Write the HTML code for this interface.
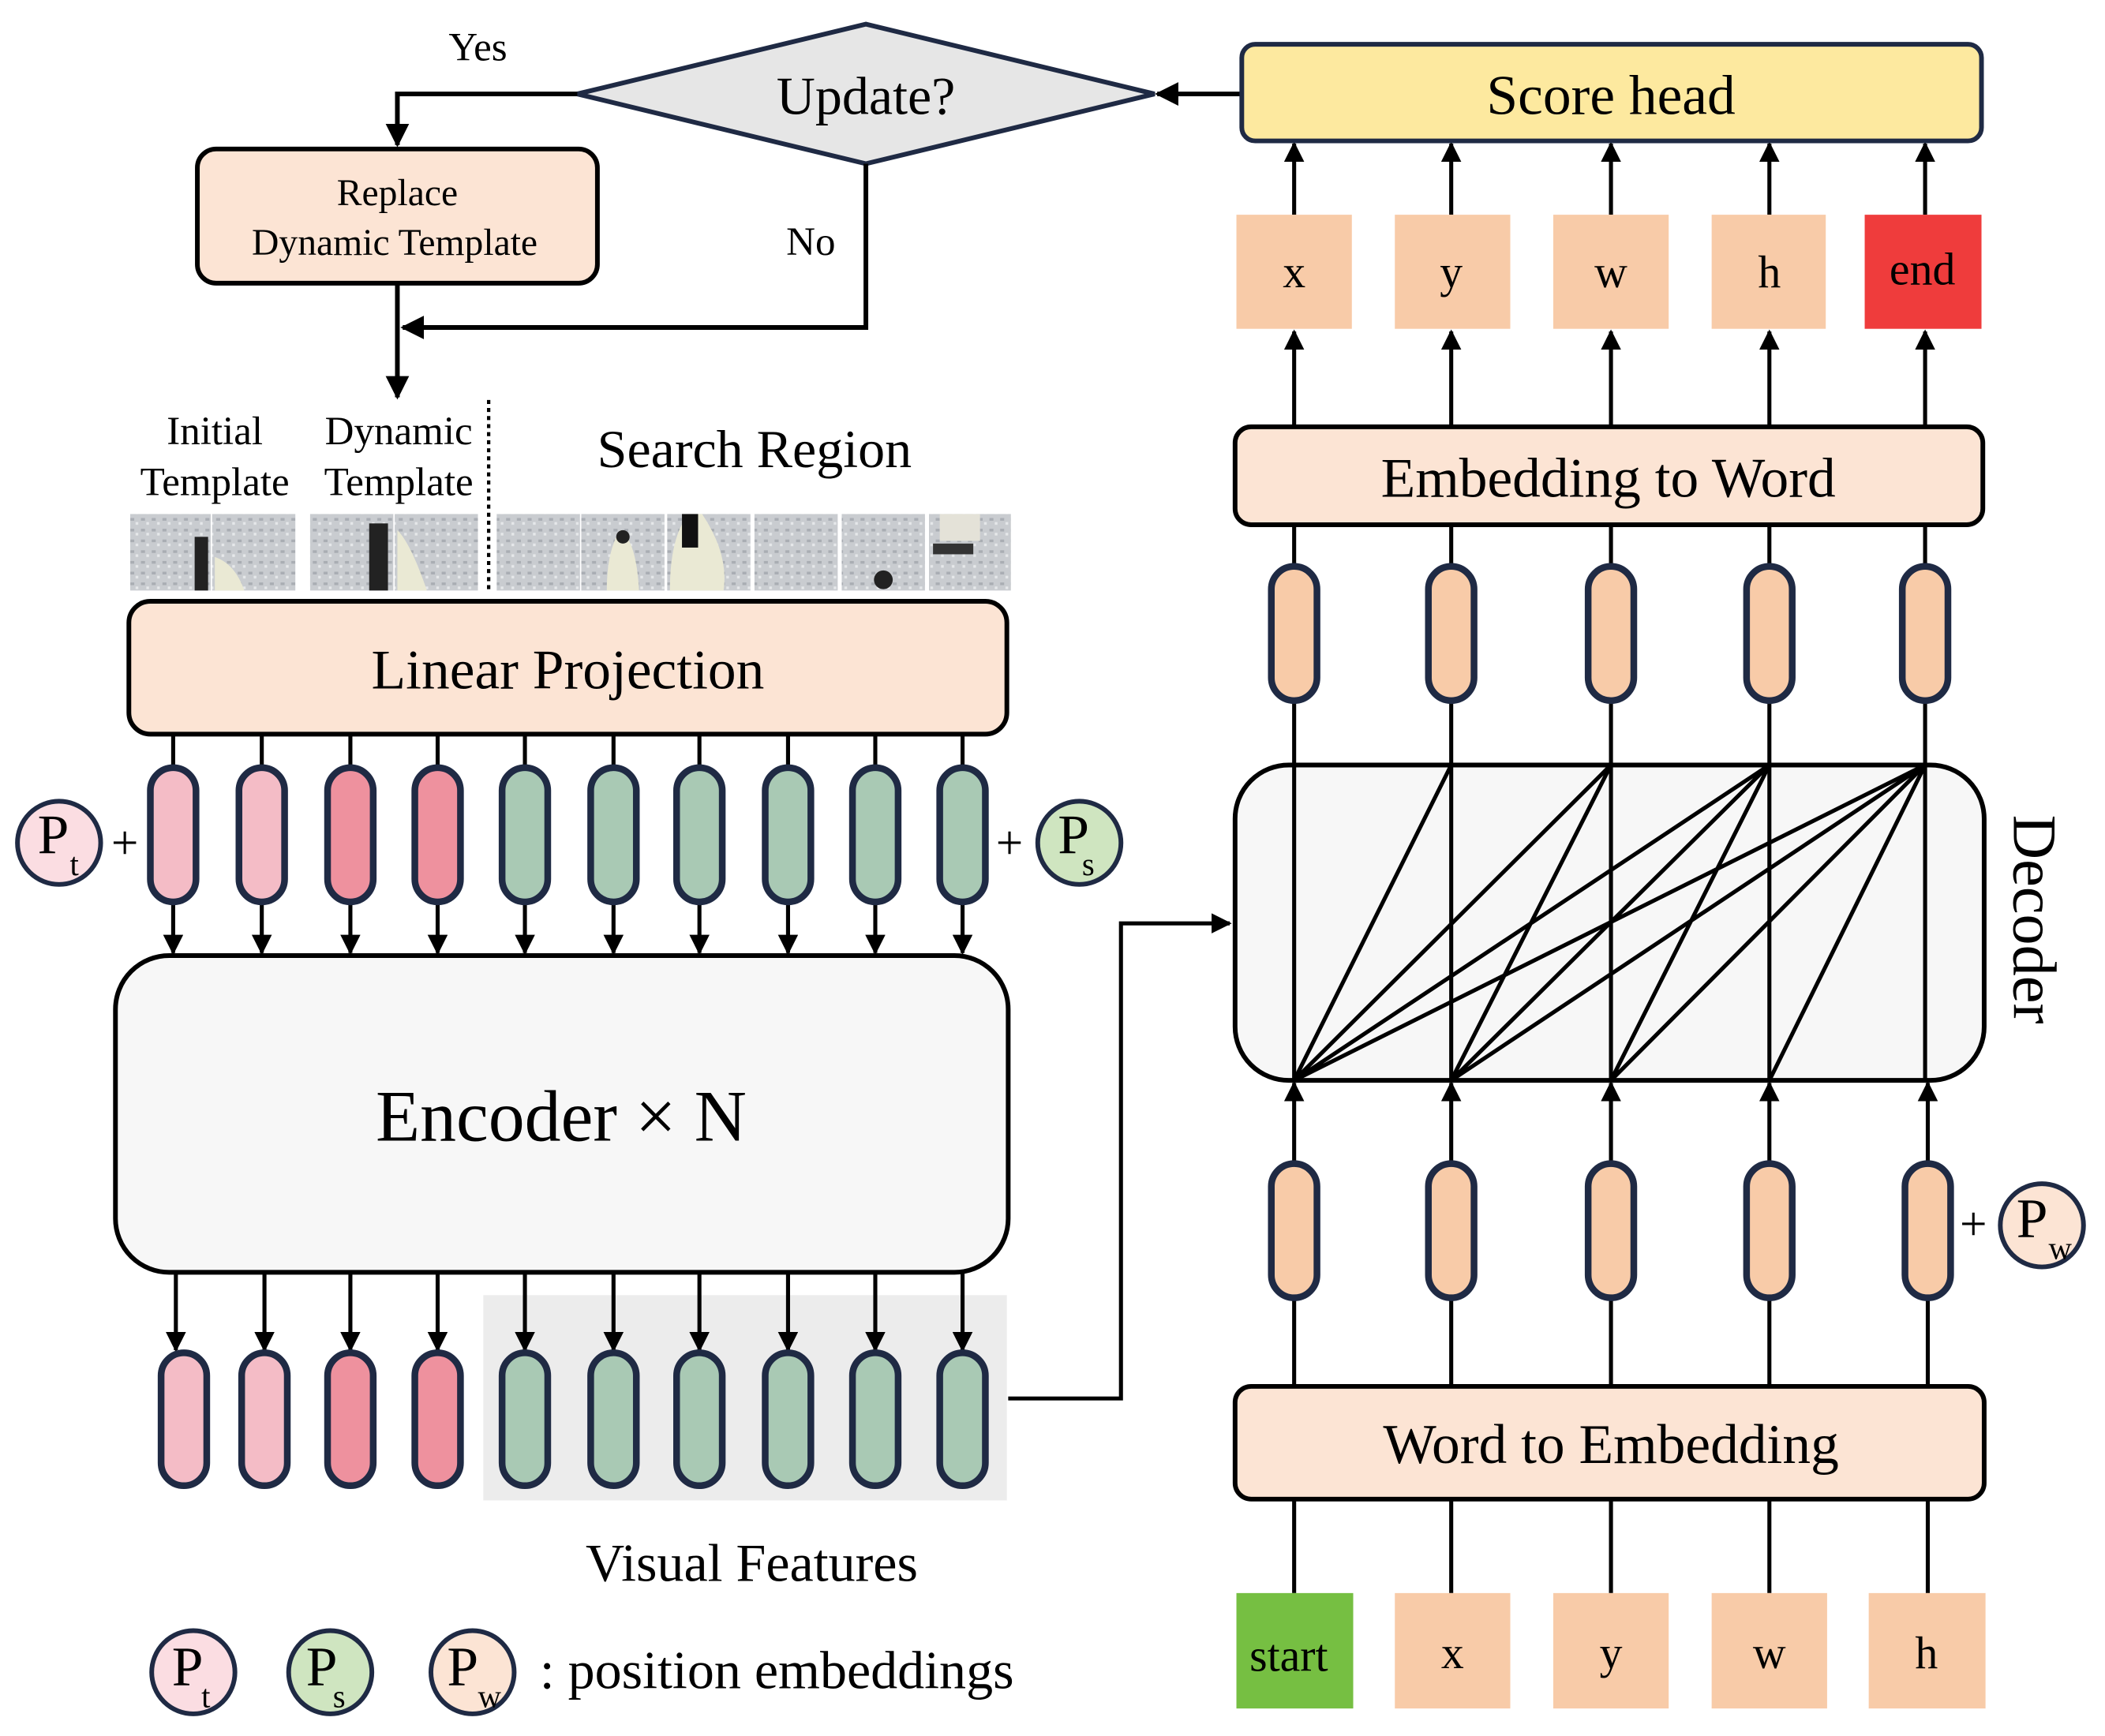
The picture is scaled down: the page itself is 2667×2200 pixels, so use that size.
<!DOCTYPE html>
<html><head><meta charset="utf-8"><style>html,body{margin:0;padding:0;background:#fff}svg{display:block}</style></head>
<body>
<svg width="2667" height="2200" viewBox="0 0 1568 1293.5" preserveAspectRatio="none" xmlns="http://www.w3.org/2000/svg" font-family="'Liberation Serif', serif">
<defs>
<marker id="a" viewBox="0 0 10 10" refX="9" refY="5" markerWidth="5" markerHeight="5" orient="auto"><path d="M0,0 L10,5 L0,10 z" fill="#000"/></marker>
<pattern id="snow" width="8" height="8" patternUnits="userSpaceOnUse"><rect width="8" height="8" fill="#c9ccd0"/><rect x="1" y="2" width="3" height="2" fill="#a9adb3"/><rect x="5" y="5" width="2" height="2" fill="#e6e8ea"/></pattern>
</defs>
<g stroke="#000" stroke-width="3.5" fill="none">
<!-- diamond -->
<polygon points="430,70 645,18 860,70 645,122" fill="#e6e6e6" stroke="#1f2a44"/>
<line x1="925" y1="70" x2="862" y2="70" marker-end="url(#a)"/>
<polyline points="430,70 296,70 296,108" marker-end="url(#a)"/>
<polyline points="645,122 645,244 300,244" marker-end="url(#a)"/>
<line x1="296" y1="211" x2="296" y2="296" marker-end="url(#a)"/>
<rect x="147" y="111" width="298" height="100" rx="14" fill="#fce4d4"/>
<line x1="364" y1="298" x2="364" y2="440" stroke-dasharray="3,3" stroke-width="2.5"/>
</g>
<text x="645" y="85" font-size="40" text-anchor="middle">Update?</text>
<text x="356" y="45" font-size="30" text-anchor="middle">Yes</text>
<text x="604" y="190" font-size="30" text-anchor="middle">No</text>
<text x="296" y="153" font-size="28" text-anchor="middle">Replace</text>
<text x="294" y="190" font-size="28" text-anchor="middle">Dynamic Template</text>
<text x="160" y="331" font-size="30" text-anchor="middle">Initial</text>
<text x="160" y="369" font-size="30" text-anchor="middle">Template</text>
<text x="297" y="331" font-size="30" text-anchor="middle">Dynamic</text>
<text x="297" y="369" font-size="30" text-anchor="middle">Template</text>
<text x="562" y="348" font-size="40" text-anchor="middle">Search Region</text>
<!-- images -->
<g>
<rect x="97" y="383" width="60" height="57" fill="url(#snow)"/><rect x="158" y="383" width="62" height="57" fill="url(#snow)"/>
<rect x="231" y="383" width="62" height="57" fill="url(#snow)"/><rect x="294" y="383" width="62" height="57" fill="url(#snow)"/>
<rect x="370" y="383" width="62" height="57" fill="url(#snow)"/><rect x="433" y="383" width="62" height="57" fill="url(#snow)"/>
<rect x="497" y="383" width="62" height="57" fill="url(#snow)"/><rect x="562" y="383" width="62" height="57" fill="url(#snow)"/>
<rect x="627" y="383" width="62" height="57" fill="url(#snow)"/><rect x="692" y="383" width="61" height="57" fill="url(#snow)"/>
<rect x="145" y="400" width="10" height="40" fill="#222"/><path d="M160,415 q15,5 22,25 h-22z" fill="#eae9d4"/>
<rect x="275" y="390" width="14" height="50" fill="#222"/><path d="M296,395 q10,10 22,45 h-22z" fill="#eae9d4"/>
<path d="M452,440 q0,-30 10,-45 q12,8 14,45z" fill="#eae9d4"/><circle cx="464" cy="400" r="5" fill="#222"/>
<path d="M499,440 q0,-40 14,-57 h10 q20,30 16,57z" fill="#eae9d4"/><rect x="508" y="383" width="12" height="25" fill="#111"/>
<circle cx="658" cy="432" r="7" fill="#222"/><rect x="695" y="405" width="30" height="8" fill="#333"/><rect x="700" y="383" width="30" height="20" fill="#e4e2d8"/>
</g>
<g stroke="#000" stroke-width="3.5">
<rect x="96" y="448" width="654" height="99" rx="16" fill="#fce4d4"/>
<rect x="86" y="712" width="665" height="236" rx="40" fill="#f7f7f7"/>
</g>
<text x="423" y="513" font-size="42" text-anchor="middle">Linear Projection</text>
<text x="418" y="850" font-size="54" text-anchor="middle">Encoder × N</text>
<rect x="360" y="965" width="390" height="153" fill="#ececec"/>
<g stroke="#000" stroke-width="3" fill="none">
<line x1="129" y1="547" x2="129" y2="572"/><line x1="195" y1="547" x2="195" y2="572"/><line x1="261" y1="547" x2="261" y2="572"/><line x1="326" y1="547" x2="326" y2="572"/><line x1="391" y1="547" x2="391" y2="572"/><line x1="457" y1="547" x2="457" y2="572"/><line x1="521" y1="547" x2="521" y2="572"/><line x1="587" y1="547" x2="587" y2="572"/><line x1="652" y1="547" x2="652" y2="572"/><line x1="717" y1="547" x2="717" y2="572"/>
<g marker-end="url(#a)">
<line x1="129" y1="672" x2="129" y2="710"/><line x1="195" y1="672" x2="195" y2="710"/><line x1="261" y1="672" x2="261" y2="710"/><line x1="326" y1="672" x2="326" y2="710"/><line x1="391" y1="672" x2="391" y2="710"/><line x1="457" y1="672" x2="457" y2="710"/><line x1="521" y1="672" x2="521" y2="710"/><line x1="587" y1="672" x2="587" y2="710"/><line x1="652" y1="672" x2="652" y2="710"/><line x1="717" y1="672" x2="717" y2="710"/>
<line x1="131" y1="948" x2="131" y2="1006"/><line x1="197" y1="948" x2="197" y2="1006"/><line x1="261" y1="948" x2="261" y2="1006"/><line x1="326" y1="948" x2="326" y2="1006"/><line x1="391" y1="948" x2="391" y2="1006"/><line x1="457" y1="948" x2="457" y2="1006"/><line x1="521" y1="948" x2="521" y2="1006"/><line x1="587" y1="948" x2="587" y2="1006"/><line x1="652" y1="948" x2="652" y2="1006"/><line x1="717" y1="948" x2="717" y2="1006"/>
<polyline points="751,1042 835,1042 835,688 916,688"/>
</g>
</g>
<g stroke="#1f2a44" stroke-width="5">
<rect x="112" y="572" width="34" height="100" rx="17" fill="#f4bcc6"/><rect x="178" y="572" width="34" height="100" rx="17" fill="#f4bcc6"/>
<rect x="244" y="572" width="34" height="100" rx="17" fill="#ee919e"/><rect x="309" y="572" width="34" height="100" rx="17" fill="#ee919e"/>
<rect x="374" y="572" width="34" height="100" rx="17" fill="#a9c9b4"/><rect x="440" y="572" width="34" height="100" rx="17" fill="#a9c9b4"/><rect x="504" y="572" width="34" height="100" rx="17" fill="#a9c9b4"/><rect x="570" y="572" width="34" height="100" rx="17" fill="#a9c9b4"/><rect x="635" y="572" width="34" height="100" rx="17" fill="#a9c9b4"/><rect x="700" y="572" width="34" height="100" rx="17" fill="#a9c9b4"/>
<rect x="120" y="1008" width="34" height="99" rx="17" fill="#f4bcc6"/><rect x="180" y="1008" width="34" height="99" rx="17" fill="#f4bcc6"/>
<rect x="244" y="1008" width="34" height="99" rx="17" fill="#ee919e"/><rect x="309" y="1008" width="34" height="99" rx="17" fill="#ee919e"/>
<rect x="374" y="1008" width="34" height="99" rx="17" fill="#a9c9b4"/><rect x="440" y="1008" width="34" height="99" rx="17" fill="#a9c9b4"/><rect x="504" y="1008" width="34" height="99" rx="17" fill="#a9c9b4"/><rect x="570" y="1008" width="34" height="99" rx="17" fill="#a9c9b4"/><rect x="635" y="1008" width="34" height="99" rx="17" fill="#a9c9b4"/><rect x="700" y="1008" width="34" height="99" rx="17" fill="#a9c9b4"/>
<circle cx="44" cy="628" r="31" fill="#fbdde2" stroke-width="3.5"/><circle cx="804" cy="628" r="31" fill="#cfe5c0" stroke-width="3.5"/>
<circle cx="144" cy="1246" r="31" fill="#fbdde2" stroke-width="3.5"/><circle cx="246" cy="1246" r="31" fill="#cfe5c0" stroke-width="3.5"/><circle cx="352" cy="1246" r="31" fill="#fce4d4" stroke-width="3.5"/>
<circle cx="1521" cy="913" r="31" fill="#fce4d4" stroke-width="3.5"/>
</g>
<g font-size="42">
<text x="28" y="636">P</text><text x="52" y="652" font-size="24">t</text>
<text x="788" y="636">P</text><text x="806" y="652" font-size="24">s</text>
<text x="128" y="1256">P</text><text x="150" y="1272" font-size="24">t</text>
<text x="228" y="1256">P</text><text x="248" y="1272" font-size="24">s</text>
<text x="333" y="1256">P</text><text x="356" y="1272" font-size="24">w</text>
<text x="1502" y="922">P</text><text x="1526" y="938" font-size="24">w</text>
</g>
<text x="93" y="640" font-size="36" text-anchor="middle">+</text>
<text x="752" y="640" font-size="36" text-anchor="middle">+</text>
<text x="1470" y="924" font-size="36" text-anchor="middle">+</text>
<text x="560" y="1178" font-size="40" text-anchor="middle">Visual Features</text>
<text x="402" y="1258" font-size="40">: position embeddings</text>
<!-- right side -->
<g stroke="#000" stroke-width="3" fill="none">
<g marker-end="url(#a)">
<line x1="964" y1="160" x2="964" y2="107"/><line x1="1081" y1="160" x2="1081" y2="107"/><line x1="1200" y1="160" x2="1200" y2="107"/><line x1="1318" y1="160" x2="1318" y2="107"/><line x1="1434" y1="160" x2="1434" y2="107"/>
<line x1="964" y1="318" x2="964" y2="247"/><line x1="1081" y1="318" x2="1081" y2="247"/><line x1="1200" y1="318" x2="1200" y2="247"/><line x1="1318" y1="318" x2="1318" y2="247"/><line x1="1434" y1="318" x2="1434" y2="247"/>
<line x1="964" y1="867" x2="964" y2="807"/><line x1="1081" y1="867" x2="1081" y2="807"/><line x1="1200" y1="867" x2="1200" y2="807"/><line x1="1318" y1="867" x2="1318" y2="807"/><line x1="1436" y1="867" x2="1436" y2="807"/>
</g>
<line x1="964" y1="391" x2="964" y2="422"/><line x1="1081" y1="391" x2="1081" y2="422"/><line x1="1200" y1="391" x2="1200" y2="422"/><line x1="1318" y1="391" x2="1318" y2="422"/><line x1="1434" y1="391" x2="1434" y2="422"/>
<line x1="964" y1="522" x2="964" y2="570"/><line x1="1081" y1="522" x2="1081" y2="570"/><line x1="1200" y1="522" x2="1200" y2="570"/><line x1="1318" y1="522" x2="1318" y2="570"/><line x1="1434" y1="522" x2="1434" y2="570"/>
<line x1="964" y1="967" x2="964" y2="1187"/><line x1="1081" y1="967" x2="1081" y2="1187"/><line x1="1200" y1="967" x2="1200" y2="1187"/><line x1="1318" y1="967" x2="1318" y2="1187"/><line x1="1436" y1="967" x2="1436" y2="1187"/>
</g>
<g stroke="#000" stroke-width="3.5">
<rect x="925" y="33" width="551" height="72" rx="10" fill="#fde99f" stroke="#1f2a44"/>
<rect x="920" y="318" width="557" height="73" rx="12" fill="#fce4d4"/>
<rect x="920" y="570" width="558" height="235" rx="40" fill="#f7f7f7"/>
<rect x="920" y="1033" width="558" height="84" rx="12" fill="#fce4d4"/>
</g>
<g stroke="#000" stroke-width="3" fill="none">
<line x1="964" y1="570" x2="964" y2="805"/><line x1="1081" y1="570" x2="1081" y2="805"/><line x1="1200" y1="570" x2="1200" y2="805"/><line x1="1318" y1="570" x2="1318" y2="805"/><line x1="1434" y1="570" x2="1434" y2="805"/>
<path d="M964,805 L1081,570 M964,805 L1200,570 M964,805 L1318,570 M964,805 L1434,570 M1081,805 L1200,570 M1081,805 L1318,570 M1081,805 L1434,570 M1200,805 L1318,570 M1200,805 L1434,570 M1318,805 L1434,570"/>
</g>
<g stroke="#1f2a44" stroke-width="5" fill="#f8cba8">
<rect x="947" y="422" width="34" height="100" rx="17"/><rect x="1064" y="422" width="34" height="100" rx="17"/><rect x="1183" y="422" width="34" height="100" rx="17"/><rect x="1301" y="422" width="34" height="100" rx="17"/><rect x="1417" y="422" width="34" height="100" rx="17"/>
<rect x="947" y="867" width="34" height="100" rx="17"/><rect x="1064" y="867" width="34" height="100" rx="17"/><rect x="1183" y="867" width="34" height="100" rx="17"/><rect x="1301" y="867" width="34" height="100" rx="17"/><rect x="1419" y="867" width="34" height="100" rx="17"/>
</g>
<g fill="#f8cba8">
<rect x="921" y="160" width="86" height="85"/><rect x="1039" y="160" width="86" height="85"/><rect x="1157" y="160" width="86" height="85"/><rect x="1275" y="160" width="85" height="85"/><rect x="1389" y="160" width="87" height="85" fill="#ef3c3c"/>
<rect x="921" y="1187" width="87" height="86" fill="#76bf42"/><rect x="1039" y="1187" width="86" height="86"/><rect x="1157" y="1187" width="86" height="86"/><rect x="1275" y="1187" width="86" height="86"/><rect x="1392" y="1187" width="87" height="86"/>
</g>
<g font-size="34" text-anchor="middle">
<text x="964" y="214">x</text><text x="1081" y="214">y</text><text x="1200" y="214">w</text><text x="1318" y="214">h</text><text x="1432" y="212">end</text>
<text x="960" y="1245">start</text><text x="1082" y="1243">x</text><text x="1200" y="1243">y</text><text x="1318" y="1243">w</text><text x="1435" y="1243">h</text>
</g>
<g font-size="42" text-anchor="middle">
<text x="1200" y="85">Score head</text>
<text x="1198" y="370">Embedding to Word</text>
<text x="1200" y="1090">Word to Embedding</text>
</g>
<text x="0" y="0" font-size="46" text-anchor="middle" transform="translate(1500,685) rotate(90)">Decoder</text>
</svg>
</body></html>
